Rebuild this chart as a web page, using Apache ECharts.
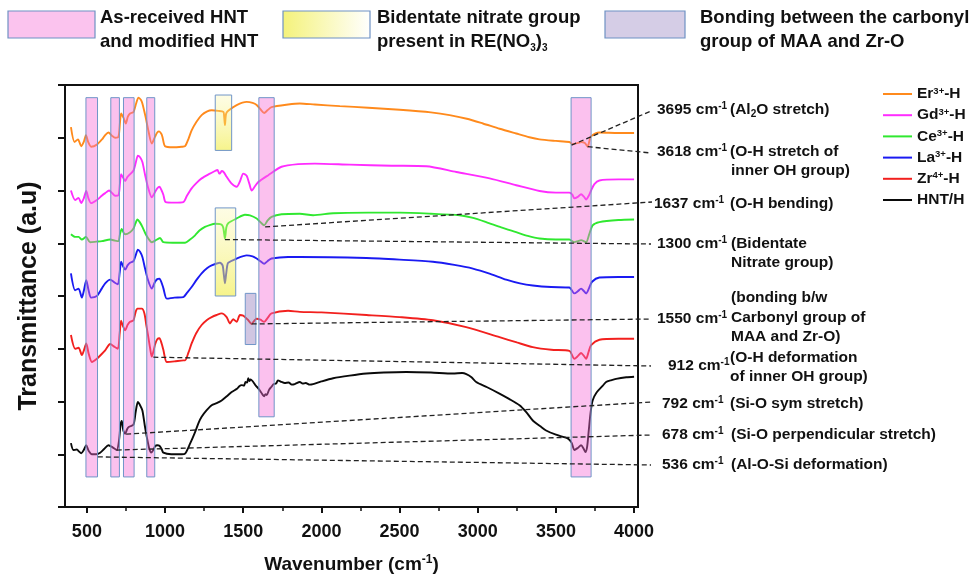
<!DOCTYPE html>
<html>
<head>
<meta charset="utf-8">
<script src="https://cdn.jsdelivr.net/npm/echarts@6/dist/echarts.min.js"></script>
<style>
html,body{margin:0;padding:0;background:#fff;}
#chart{width:971px;height:578px;}
</style>
</head>
<body>
<div id="chart"></div>
<script>
// FTIR spectra, stacked with vertical offsets: [wavenumber (cm-1), transmittance (a.u.)]
const seriesNames = ['Er3+-H', 'Gd3+-H', 'Ce3+-H', 'La3+-H', 'Zr4+-H', 'HNT/H'];

const erH = [[398,6.20],[421,5.92],[443,5.97],[464,5.84],[480,5.92],[494,6.05],[508,5.92],[527,5.83],[564,5.87],[600,5.98],[617,6.05],[638,6.10],[660,6.04],[681,6.00],[702,6.02],[712,6.30],[719,6.46],[734,6.38],[749,6.27],[762,6.40],[776,6.46],[798,6.49],[815,6.65],[830,6.76],[845,6.72],[855,6.65],[875,6.40],[893,6.14],[915,5.89],[936,6.02],[950,6.10],[962,6.12],[975,6.08],[983,6.02],[1000,5.84],[1050,5.82],[1107,5.83],[1128,5.84],[1150,5.98],[1170,6.14],[1200,6.30],[1234,6.43],[1270,6.50],[1298,6.52],[1340,6.51],[1373,6.49],[1378,6.40],[1383,6.24],[1390,6.45],[1404,6.51],[1458,6.62],[1522,6.68],[1560,6.66],[1586,6.62],[1610,6.54],[1634,6.47],[1655,6.52],[1681,6.58],[1787,6.63],[1862,6.65],[1958,6.63],[2118,6.60],[2300,6.57],[2501,6.53],[2700,6.48],[2820,6.43],[2930,6.36],[3033,6.27],[3140,6.17],[3246,6.08],[3330,6.01],[3395,5.97],[3500,5.94],[3586,5.92],[3607,5.88],[3640,5.90],[3661,5.92],[3685,5.90],[3703,5.83],[3715,5.95],[3725,6.03],[3778,6.10],[3900,6.09],[4000,6.09]];

const gdH = [[398,5.00],[425,4.82],[447,4.86],[464,4.76],[480,4.85],[496,4.99],[510,4.85],[527,4.76],[564,4.82],[595,4.90],[617,4.95],[642,5.00],[662,4.95],[681,4.90],[702,4.91],[712,5.15],[719,5.31],[732,5.24],[745,5.18],[758,5.25],[770,5.29],[798,5.38],[812,5.52],[826,5.66],[840,5.63],[855,5.54],[872,5.30],[890,5.07],[915,4.87],[936,4.97],[950,5.04],[964,5.07],[978,5.00],[989,4.92],[1004,4.78],[1060,4.77],[1117,4.78],[1140,4.90],[1170,5.04],[1200,5.14],[1234,5.23],[1280,5.31],[1319,5.37],[1335,5.39],[1345,5.33],[1351,5.32],[1362,5.37],[1375,5.35],[1394,5.26],[1426,5.13],[1458,5.07],[1480,5.18],[1500,5.32],[1522,5.28],[1540,5.12],[1554,5.00],[1575,5.08],[1596,5.16],[1660,5.29],[1745,5.45],[1851,5.50],[1958,5.51],[2181,5.49],[2450,5.47],[2671,5.46],[2863,5.35],[3076,5.23],[3246,5.10],[3395,4.99],[3500,4.96],[3586,4.96],[3605,4.92],[3618,4.85],[3640,4.88],[3661,4.93],[3680,4.88],[3693,4.83],[3710,4.90],[3725,5.00],[3746,5.12],[3778,5.19],[3900,5.21],[4000,5.21]];

const ceH = [[398,4.17],[425,4.12],[447,4.12],[468,4.07],[494,4.12],[521,4.02],[560,4.03],[596,4.04],[649,4.07],[680,4.05],[702,4.04],[712,4.18],[723,4.27],[735,4.20],[745,4.17],[776,4.21],[798,4.28],[810,4.37],[823,4.45],[838,4.40],[855,4.31],[875,4.18],[893,4.09],[915,4.02],[936,4.05],[968,4.10],[989,4.02],[1050,4.01],[1128,4.01],[1160,4.07],[1192,4.15],[1220,4.24],[1255,4.31],[1290,4.35],[1319,4.37],[1358,4.36],[1372,4.30],[1383,4.09],[1392,4.30],[1404,4.38],[1458,4.47],[1511,4.54],[1543,4.53],[1586,4.47],[1610,4.40],[1634,4.34],[1655,4.43],[1681,4.50],[1745,4.55],[1862,4.56],[1947,4.53],[2075,4.57],[2300,4.58],[2501,4.58],[2700,4.56],[2884,4.53],[2970,4.48],[3054,4.40],[3150,4.30],[3246,4.21],[3320,4.14],[3395,4.09],[3500,4.07],[3586,4.07],[3618,4.02],[3640,4.04],[3661,4.06],[3693,4.02],[3714,4.18],[3735,4.34],[3778,4.40],[3900,4.44],[4000,4.45]];

const laH = [[398,3.43],[425,3.11],[447,3.14],[468,2.97],[482,3.12],[496,3.30],[510,3.12],[527,2.97],[564,3.00],[595,3.14],[617,3.24],[649,3.31],[675,3.26],[698,3.22],[710,3.45],[719,3.65],[732,3.56],[745,3.50],[760,3.58],[776,3.63],[798,3.66],[812,3.77],[826,3.88],[840,3.84],[855,3.74],[872,3.52],[890,3.31],[915,3.14],[936,3.27],[950,3.32],[964,3.33],[978,3.25],[989,3.15],[1011,2.95],[1060,2.97],[1117,2.98],[1140,3.06],[1170,3.17],[1200,3.30],[1234,3.43],[1270,3.53],[1298,3.58],[1351,3.63],[1368,3.58],[1376,3.40],[1383,3.24],[1390,3.40],[1398,3.58],[1404,3.63],[1458,3.71],[1522,3.77],[1560,3.75],[1586,3.71],[1610,3.66],[1634,3.61],[1655,3.66],[1681,3.71],[1787,3.74],[1862,3.74],[2288,3.72],[2500,3.69],[2713,3.65],[2850,3.59],[2969,3.52],[3080,3.42],[3182,3.31],[3270,3.24],[3352,3.20],[3470,3.17],[3586,3.16],[3618,3.05],[3640,3.09],[3661,3.14],[3680,3.09],[3693,3.05],[3712,3.15],[3731,3.27],[3778,3.35],[3900,3.36],[4000,3.36]];

const zrH = [[398,2.26],[425,2.00],[447,2.02],[468,1.88],[482,1.98],[496,2.10],[512,1.90],[532,1.75],[564,1.81],[595,1.90],[617,1.97],[649,2.09],[675,2.04],[698,2.00],[710,2.30],[719,2.53],[732,2.42],[745,2.35],[760,2.45],[776,2.51],[798,2.54],[812,2.70],[823,2.76],[851,2.76],[868,2.67],[880,2.45],[893,2.22],[905,2.00],[915,1.85],[928,1.98],[936,2.08],[950,2.18],[964,2.20],[978,2.10],[989,1.98],[1011,1.75],[1060,1.76],[1117,1.78],[1128,1.78],[1150,1.93],[1170,2.10],[1200,2.30],[1234,2.45],[1270,2.55],[1298,2.60],[1330,2.64],[1362,2.67],[1394,2.60],[1415,2.48],[1436,2.56],[1458,2.51],[1479,2.64],[1500,2.63],[1511,2.60],[1530,2.55],[1554,2.47],[1570,2.53],[1586,2.57],[1610,2.55],[1634,2.51],[1655,2.58],[1681,2.67],[1787,2.72],[1862,2.70],[2000,2.69],[2288,2.64],[2500,2.60],[2713,2.54],[2926,2.41],[3139,2.22],[3250,2.12],[3352,2.03],[3470,1.98],[3586,1.96],[3618,1.81],[3640,1.86],[3661,1.92],[3680,1.86],[3693,1.81],[3710,1.95],[3725,2.07],[3778,2.17],[3900,2.19],[4000,2.19]];

const hntH = [[398,0.21],[414,0.08],[436,0.09],[450,0.05],[464,0.02],[480,0.08],[496,0.17],[512,0.06],[532,0.00],[560,0.00],[585,0.03],[610,0.10],[638,0.17],[665,0.13],[691,0.08],[705,0.25],[715,0.55],[723,0.63],[733,0.45],[745,0.39],[758,0.48],[770,0.52],[798,0.56],[812,0.80],[826,0.99],[840,0.93],[855,0.83],[870,0.55],[883,0.33],[898,0.12],[911,0.03],[925,0.08],[936,0.15],[950,0.17],[964,0.16],[978,0.10],[989,0.03],[1040,0.00],[1107,0.00],[1128,0.01],[1160,0.20],[1192,0.42],[1215,0.60],[1234,0.71],[1265,0.83],[1298,0.93],[1330,0.97],[1362,1.02],[1395,1.10],[1426,1.18],[1460,1.24],[1475,1.29],[1490,1.31],[1505,1.30],[1515,1.37],[1525,1.36],[1532,1.44],[1540,1.39],[1548,1.42],[1564,1.37],[1580,1.30],[1596,1.25],[1615,1.17],[1626,1.12],[1634,1.10],[1642,1.14],[1650,1.12],[1665,1.22],[1681,1.28],[1695,1.33],[1710,1.34],[1722,1.40],[1745,1.37],[1765,1.35],[1790,1.36],[1810,1.32],[1830,1.33],[1862,1.37],[1880,1.34],[1900,1.35],[1925,1.32],[1947,1.33],[2000,1.38],[2075,1.44],[2180,1.49],[2288,1.53],[2400,1.55],[2543,1.56],[2700,1.55],[2841,1.53],[2900,1.54],[2927,1.52],[2960,1.46],[2990,1.37],[3060,1.27],[3139,1.15],[3200,1.05],[3267,0.93],[3310,0.80],[3352,0.64],[3400,0.53],[3437,0.45],[3500,0.37],[3575,0.30],[3600,0.22],[3618,0.08],[3640,0.12],[3661,0.17],[3678,0.10],[3689,0.04],[3700,0.15],[3710,0.45],[3722,0.80],[3735,1.02],[3760,1.17],[3800,1.30],[3821,1.37],[3850,1.40],[3885,1.43],[3950,1.46],[4000,1.47]];

const seriesData = [erH, gdH, ceH, laH, zrH, hntH];

// x-axis ticks
const xTicks = [500, 1000, 1500, 2000, 2500, 3000, 3500, 4000];
const xMinorTicks = [750, 1250, 1750, 2250, 2750, 3250, 3750];

// highlighted bands: [from cm-1, to cm-1, lower, upper]
const hntBands = [[494,568,-0.43,6.76],[653,708,-0.43,6.76],[734,802,-0.43,6.76],[883,934,-0.43,6.76],[1600,1698,0.71,6.76],[3597,3725,-0.43,6.76]];
const nitrateBands = [[1321,1426,5.76,6.81],[1321,1452,3.00,4.67]];
const carbonylBands = [[1513,1581,2.08,3.05]];

// call-outs: the point on a spectrum each one starts from, and its band
const calloutWave = [3600, 3703, 1640, 1383, 1554, 925, 751, 691, 570];
const calloutValue = [5.86, 5.83, 4.31, 4.07, 2.47, 1.84, 0.38, 0.08, -0.05];
const calloutBand = ['3695', '3618', '1637', '1300', '1550', '912', '792', '678', '536'];
</script>
<script>
const FONT = 'Liberation Sans, Arial, Helvetica, sans-serif';
const colors = ['#ff8a1c', '#ff2cff', '#30e830', '#1a1af2', '#f2201e', '#0a0a0a'];

// arrow tips of the call-outs (pixels, to the right of the plot)
const calloutTips = [[651,111],[651,153],[652,202],[651,244],[651,319],[651,366],[651,402],[651,435],[651,465]];

const supStyle = {fontSize: 10, fontWeight: 'bold', fontFamily: FONT, verticalAlign: 'top', lineHeight: 10, fill: '#111', color: '#111'};
const subStyle = {fontSize: 10, fontWeight: 'bold', fontFamily: FONT, verticalAlign: 'bottom', lineHeight: 10, fill: '#111', color: '#111'};
function normStyle(size) {
  return {fontSize: size, fontWeight: 'bold', fontFamily: FONT, lineHeight: size + 3, fill: '#111', color: '#111'};
}

function textEl(x, y, rich, size) {
  return {
    type: 'text', x: x, y: y, z: 20, silent: true,
    style: {
      text: rich, fill: '#111', verticalAlign: 'middle', align: 'left',
      fontFamily: FONT, fontWeight: 'bold', fontSize: size,
      rich: {n: normStyle(size), s: supStyle, b: subStyle}
    }
  };
}

// call-out labels [x, y, text]
const cm = (v) => '{n|' + v + ' cm}{s|-1}';
const calloutLabels = [
  [657, 110, cm(calloutBand[0])], [730, 110, '{n|(Al}{b|2}{n|O stretch)}'],
  [657, 152, cm(calloutBand[1])], [730, 152, '{n|(O-H stretch of}'], [731, 171, '{n|inner OH group)}'],
  [654, 204, cm(calloutBand[2])], [730, 204, '{n|(O-H bending)}'],
  [657, 244, cm(calloutBand[3])], [731, 244, '{n|(Bidentate}'], [731, 263, '{n|Nitrate group)}'],
  [731, 298, '{n|(bonding b/w}'], [657, 319, cm(calloutBand[4])], [731, 318, '{n|Carbonyl group of}'], [731, 337, '{n|MAA and Zr-O)}'],
  [668, 366, cm(calloutBand[5])], [730, 358, '{n|(O-H deformation}'], [730, 377, '{n|of inner OH group)}'],
  [662, 404, cm(calloutBand[6])], [730, 404, '{n|(Si-O sym stretch)}'],
  [662, 435, cm(calloutBand[7])], [731, 435, '{n|(Si-O perpendicular stretch)}'],
  [662, 465, cm(calloutBand[8])], [731, 465, '{n|(Al-O-Si deformation)}']
];

// band legend across the top
const bandLegend = [
  {rect: [8, 11, 87, 27], fill: '#fbc3ee', lines: ['{n|As-received HNT}', '{n|and modified HNT}'], tx: 100},
  {rect: [283, 11, 87, 27], fill: 'yellow', lines: ['{n|Bidentate nitrate group}', '{n|present in RE(NO}{b|3}{n|)}{b|3}'], tx: 377},
  {rect: [605, 11, 80, 27], fill: '#d5cde6', lines: ['{n|Bonding between the carbonyl}', '{n|group of MAA and Zr-O}'], tx: 700}
];

const graphics = [];
calloutLabels.forEach(l => graphics.push(textEl(l[0], l[1], l[2], 15.5)));
bandLegend.forEach(b => {
  const fill = b.fill === 'yellow'
    ? new echarts.graphic.LinearGradient(0, 0, 1, 0, [{offset: 0, color: '#f4f27a'}, {offset: 1, color: '#ffffff'}])
    : b.fill;
  graphics.push({type: 'rect', z: 20, silent: true,
    shape: {x: b.rect[0], y: b.rect[1], width: b.rect[2], height: b.rect[3]},
    style: {fill: fill, stroke: '#6f92c4', lineWidth: 1.2}});
  graphics.push(textEl(b.tx, 18, b.lines[0], 18.5));
  graphics.push(textEl(b.tx, 42, b.lines[1], 18.5));
});

function bandArea(list) {
  return list.map(b => [{coord: [b[0], b[3]]}, {coord: [b[1], b[2]]}]);
}

const legendRich = {
  t: {fontSize: 15.5, fontWeight: 'bold', fontFamily: FONT, color: '#111', lineHeight: 16},
  p: {fontSize: 9.5, fontWeight: 'bold', fontFamily: FONT, color: '#111', verticalAlign: 'top', lineHeight: 9}
};
function legendLabel(name) {
  const m = name.match(/^(\w+?)(\d\+)(-H)$/);
  if (m) return '{t|' + m[1] + '}{p|' + m[2] + '}{t|' + m[3] + '}';
  return '{t|' + name + '}';
}

const lineSeries = seriesNames.map((name, i) => ({
  name: name,
  type: 'line',
  data: seriesData[i],
  showSymbol: false,
  symbol: 'none',
  smooth: 0.25,
  z: 3,
  lineStyle: {color: colors[i], width: 1.9},
  itemStyle: {color: colors[i]},
  emphasis: {disabled: true}
}));

const overlaySeries = {
  type: 'line',
  name: 'bands',
  data: [],
  z: 10,
  clip: false,
  silent: true,
  markArea: {
    silent: true,
    z: 10,
    label: {show: false},
    data: []
      .concat(bandArea(hntBands).map(d => { d[0].itemStyle = {color: 'rgba(246,108,214,0.42)', borderColor: '#7095c8', borderWidth: 1}; return d; }))
      .concat(bandArea(nitrateBands).map(d => { d[0].itemStyle = {
        color: new echarts.graphic.LinearGradient(0, 0, 0, 1, [{offset: 0, color: 'rgba(250,245,150,0.25)'}, {offset: 1, color: 'rgba(240,236,60,0.6)'}]),
        borderColor: '#7095c8', borderWidth: 1}; return d; }))
      .concat(bandArea(carbonylBands).map(d => { d[0].itemStyle = {color: 'rgba(150,128,190,0.45)', borderColor: '#7095c8', borderWidth: 1}; return d; }))
  },
  markLine: {
    silent: true,
    z: 12,
    symbol: ['none', 'arrow'],
    symbolSize: [0, 7],
    label: {show: false},
    lineStyle: {color: '#222', width: 1.3, type: [5, 3]},
    emphasis: {disabled: true},
    data: calloutWave.map((w, i) => [
      {coord: [w, calloutValue[i]]},
      {x: calloutTips[i][0], y: calloutTips[i][1]}
    ])
  }
};

const chart = echarts.init(document.getElementById('chart'), null, {renderer: 'canvas'});
chart.setOption({
  animation: false,
  backgroundColor: '#fff',
  grid: {left: 65, top: 85, width: 573, height: 422, show: true, borderColor: '#111', borderWidth: 2,
    containLabel: false, outerBoundsMode: 'none'},
  legend: {
    data: seriesNames,
    orient: 'vertical',
    left: 878, top: 81,
    itemWidth: 29, itemHeight: 2, itemGap: 5.2,
    icon: 'rect',
    formatter: legendLabel,
    textStyle: {rich: legendRich},
    selectedMode: false
  },
  xAxis: [{
    type: 'value', min: 360, max: 4025,
    name: '{n|Wavenumber (cm}{s|-1}{n|)}',
    nameLocation: 'middle', nameGap: 47,
    nameTextStyle: {rich: {
      n: {fontSize: 19, fontWeight: 'bold', fontFamily: FONT, color: '#111', lineHeight: 22},
      s: {fontSize: 12, fontWeight: 'bold', fontFamily: FONT, color: '#111', verticalAlign: 'top', lineHeight: 12}
    }},
    axisLine: {show: true, onZero: false, lineStyle: {color: '#111', width: 2}},
    axisTick: {show: true, customValues: xTicks, length: 6, lineStyle: {width: 2, color: '#111'}},
    axisLabel: {customValues: xTicks, formatter: v => String(v), fontSize: 18, fontWeight: 'bold', fontFamily: FONT, color: '#111', margin: 16},
    splitLine: {show: false}
  }, {
    type: 'value', min: 360, max: 4025, position: 'bottom', offset: 0,
    axisLine: {show: false, onZero: false},
    axisTick: {show: true, customValues: xMinorTicks, length: 4, lineStyle: {width: 1.5, color: '#111'}},
    axisLabel: {show: false},
    splitLine: {show: false}
  }],
  yAxis: {
    type: 'value', min: -1, max: 7, interval: 1,
    name: 'Transmittance (a.u)',
    nameLocation: 'middle', nameGap: 23,
    nameTextStyle: {fontSize: 25, fontWeight: 'bold', fontFamily: FONT, color: '#111'},
    axisLine: {show: true, onZero: false, lineStyle: {color: '#111', width: 2}},
    axisTick: {show: true, length: 7, lineStyle: {width: 2, color: '#111'}},
    axisLabel: {show: false},
    splitLine: {show: false}
  },
  series: lineSeries.concat([overlaySeries]),
  graphic: graphics
});
</script>
</body>
</html>
